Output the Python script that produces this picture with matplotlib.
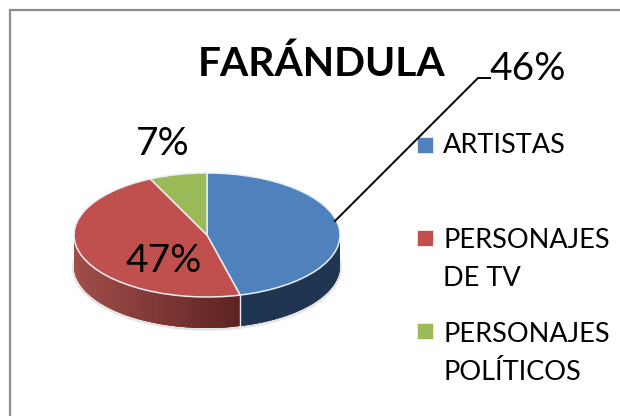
import numpy as np
import matplotlib
matplotlib.use("Agg")
import matplotlib.pyplot as plt
from matplotlib.colors import to_rgb
from matplotlib.patches import Rectangle, Ellipse

categories = ["ARTISTAS", "PERSONAJES\nDE TV", "PERSONAJES\nPOLÍTICOS"]
values = [46, 47, 7]
colors = ["#4F81BD", "#C0504D", "#9BBB59"]
wall_left = ["#1F3552", "#A24E4B", "#7A9447"]
wall_right = ["#1F3552", "#5C2321", "#55682F"]
title = "FARÁNDULA"

W, H = 620, 416
plt.rcParams["font.family"] = ["Lato", "DejaVu Sans"]
fig = plt.figure(figsize=(W / 100, H / 100), dpi=100, facecolor="white")

# Pixel-space overlay for frame
bg = fig.add_axes([0, 0, 1, 1], zorder=0)
bg.set_xlim(0, W)
bg.set_ylim(H, 0)
bg.axis("off")
bg.plot([10, 10, W], [H, 10, 10], color="#8C8C8C", lw=1.6, solid_joinstyle="miter")

# Pie top: an ellipse obtained by stretching the pie axes
L, T, R, B = 74, 173, 340, 297
depth = 31 / ((B - T) / 2)
ax = fig.add_axes([L / W, 1 - B / H, (R - L) / W, (B - T) / H], zorder=1)
wedges, _ = ax.pie(values, colors=colors, startangle=90, counterclock=False, radius=1,
                   wedgeprops=dict(edgecolor="#E8EEF4", linewidth=1.1, clip_on=False))
ax.set_aspect("auto")
ax.set_xlim(-1, 1)
ax.set_ylim(-1, 1)
ax.patch.set_alpha(0)

# Soft shadow under the extruded wall
ax.add_patch(Ellipse((0, -depth - 0.03), 2.03, 2.03, facecolor="#E4E4E4", edgecolor="none",
                     clip_on=False, zorder=0.3))

# Extruded side wall, shaded per slice
fr = np.array(values) / sum(values) * 2 * np.pi
ends = np.cumsum(fr)
starts = ends - fr
for s, e, cl, cr in zip(starts, ends, wall_left, wall_right):
    a, b = max(s, np.pi / 2), min(e, 3 * np.pi / 2)
    if a >= b:
        continue
    ts = np.linspace(a, b, 90)
    x = np.sin(ts)
    y = np.cos(ts)
    xr, xl = x.max(), x.min()
    c0, c1 = np.array(to_rgb(cl)), np.array(to_rgb(cr))
    n = len(ts)
    for i in range(n - 1):
        j = min(i + 3, n - 1)
        f = (0.5 * (x[i] + x[i + 1]) - xl) / max(xr - xl, 1e-6)
        col = c0 + (c1 - c0) * f
        ax.fill(np.r_[x[i:j + 1], x[i:j + 1][::-1]],
                np.r_[y[i:j + 1], (y[i:j + 1] - depth)[::-1]],
                facecolor=col, edgecolor="none", clip_on=False, zorder=0.5)
    if np.pi / 2 < e < 3 * np.pi / 2:
        ax.plot([np.sin(e)] * 2, [np.cos(e), np.cos(e) - depth], color="#E8EEF4",
                lw=1.0, clip_on=False, zorder=0.6)

# Data labels and leader line
ov = fig.add_axes([0, 0, 1, 1], zorder=2)
ov.set_xlim(0, W)
ov.set_ylim(H, 0)
ov.axis("off")
ov.plot([335, 478, 490], [221, 78, 78], color="black", lw=1.4)
label_pos = [(528, 80), (164, 272), (163, 155)]
for v, (px, py) in zip(values, label_pos):
    ov.text(px, py, f"{v}%", fontsize=28, ha="center", va="baseline", color="black")

ov.text(322, 76, title, fontsize=29.3, fontweight="bold", ha="center", va="baseline", color="black")

# Legend
swatch_top = [137, 230, 323]
text_base = [153, 248, 342]
for name, col, st, tb in zip(categories, colors, swatch_top, text_base):
    ov.add_patch(Rectangle((417, st), 16, 16, facecolor=col, edgecolor="#F0F0F0", lw=0.6))
    for i, line in enumerate(name.split("\n")):
        ov.text(443, tb + i * 38.5, line, fontsize=19.5, ha="left", va="baseline", color="black")

fig.savefig("out.png", dpi=100)
